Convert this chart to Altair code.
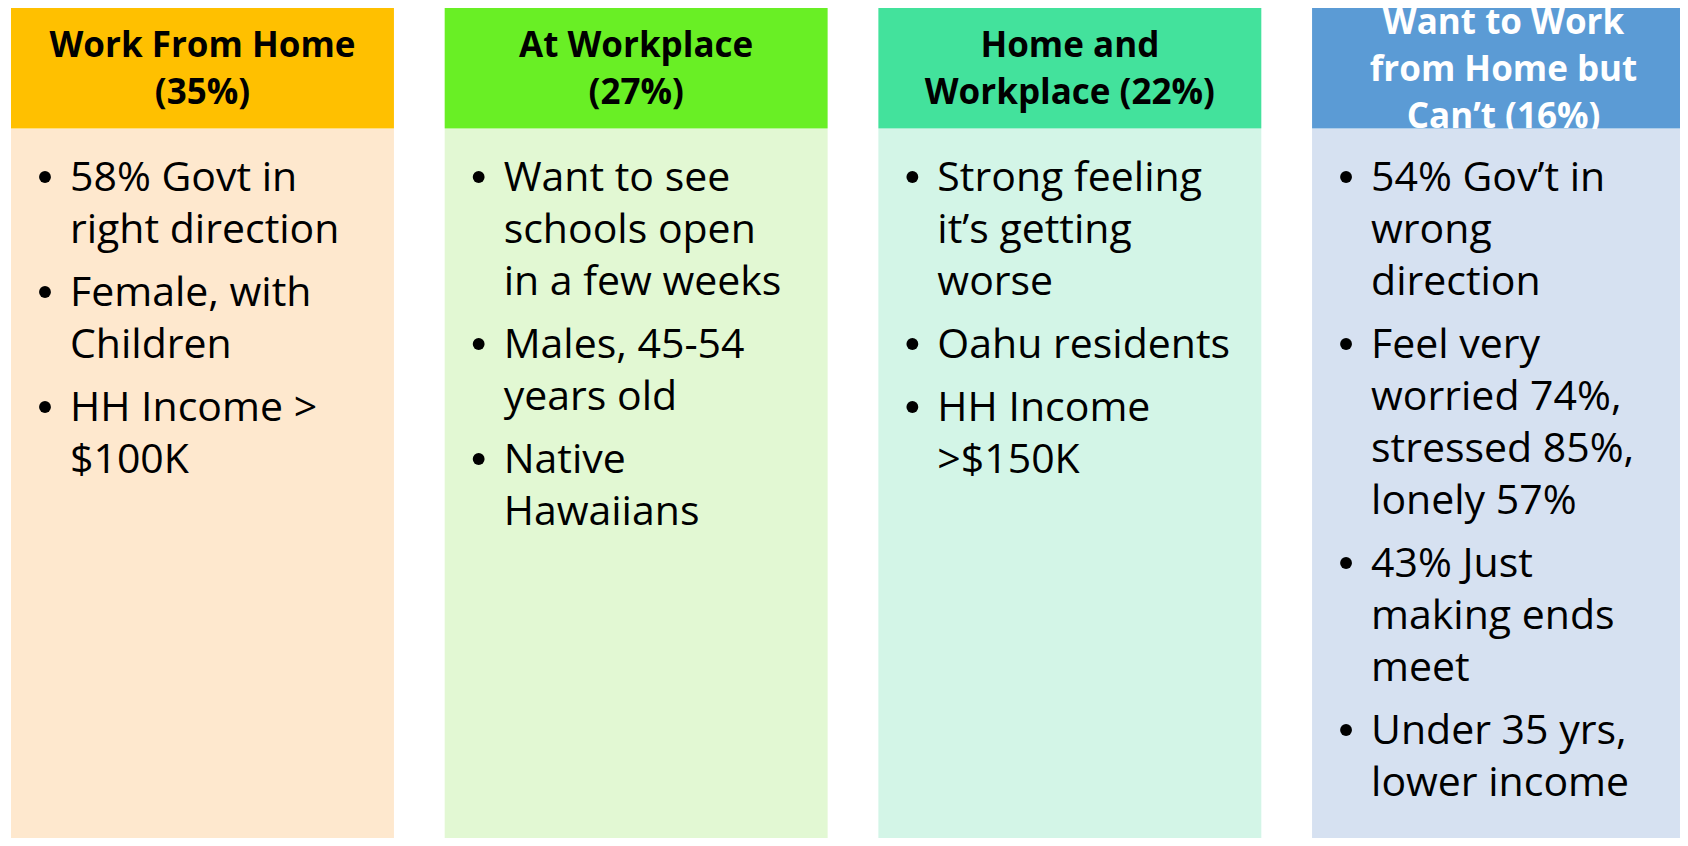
import altair as alt
import pandas as pd

# ---- content -------------------------------------------------------------
CATEGORIES = ["Work From Home", "At Workplace", "Home and Workplace",
              "Want to Work from Home but Can’t"]
SHARES = [35, 27, 22, 16]

HEADER_LINES = [
    ["Work From Home", "(35%)"],
    ["At Workplace", "(27%)"],
    ["Home and", "Workplace (22%)"],
    ["Want to Work", "from Home but", "Can’t (16%)"],
]

BULLETS_HOME = [["58% Govt in", "right direction"],
                ["Female, with", "Children"],
                ["HH Income >", "$100K"]]
BULLETS_WORK = [["Want to see", "schools open", "in a few weeks"],
                ["Males, 45-54", "years old"],
                ["Native", "Hawaiians"]]
BULLETS_BOTH = [["Strong feeling", "it’s getting", "worse"],
                ["Oahu residents"],
                ["HH Income", ">$150K"]]
BULLETS_CANT = [["54% Gov’t in", "wrong", "direction"],
                ["Feel very", "worried 74%,", "stressed 85%,", "lonely 57%"],
                ["43% Just", "making ends", "meet"],
                ["Under 35 yrs,", "lower income"]]
BULLETS = [BULLETS_HOME, BULLETS_WORK, BULLETS_BOTH, BULLETS_CANT]

HEADER_COLORS = ["#FFC000", "#69EF25", "#43E29C", "#5B9BD5"]
BODY_COLORS = ["#FEE8CE", "#E2F8D3", "#D3F5E7", "#D6E1F1"]
HEADER_TEXT_COLORS = ["#000000", "#000000", "#000000", "#FFFFFF"]

# ---- layout constants (page pixels) --------------------------------------
W, H = 1672, 830
HEADER_TOP, HEADER_BOTTOM, BODY_BOTTOM = 7, 128.5, 846
HEAD_CENTER, HEAD_STEP = 80.5, 47
BODY_FIRST, LINE_STEP, BULLET_GAP = 191, 52, 11

# ---- tables --------------------------------------------------------------
panels = pd.DataFrame({"category": CATEGORIES, "share": SHARES})

head_rows = []
for cat, lines in zip(CATEGORIES, HEADER_LINES):
    n = len(lines)
    for i, t in enumerate(lines):
        head_rows.append({"category": cat, "text": t,
                          "y": HEAD_CENTER - (n - 1) * HEAD_STEP / 2 + i * HEAD_STEP})
head_df = pd.DataFrame(head_rows)

body_rows, bullet_rows = [], []
for cat, bullets in zip(CATEGORIES, BULLETS):
    li = 0
    for bi, lines in enumerate(bullets):
        for k, t in enumerate(lines):
            y = BODY_FIRST + li * LINE_STEP + bi * BULLET_GAP
            body_rows.append({"category": cat, "text": t, "y": y})
            if k == 0:
                bullet_rows.append({"category": cat, "y": y})
            li += 1
body_df = pd.DataFrame(body_rows)
bullet_df = pd.DataFrame(bullet_rows)

# ---- scales --------------------------------------------------------------
xscale = alt.Scale(domain=CATEGORIES, range=[3, 1687], paddingInner=0.117, paddingOuter=0)
yscale = alt.Scale(domain=[8, 8 + H], range=[0, H], zero=False, nice=False)

x_band = alt.X("category:N", scale=xscale, axis=None, title=None)
x_start = alt.X("category:N", scale=xscale, axis=None, title=None, bandPosition=0)
x_mid = alt.X("category:N", scale=xscale, axis=None, title=None, bandPosition=0.5)

header_rect = alt.Chart(panels).mark_rect().encode(
    x=x_band,
    y=alt.Y("top:Q", scale=yscale, axis=None),
    y2="bottom:Q",
    color=alt.Color("category:N", scale=alt.Scale(domain=CATEGORIES, range=HEADER_COLORS), legend=None),
).transform_calculate(top=str(HEADER_TOP), bottom=str(HEADER_BOTTOM))

header_text = alt.Chart(head_df).mark_text(
    font="Open Sans", fontWeight="bold", fontSize=35, align="center", baseline="alphabetic"
).encode(
    x=x_mid,
    y=alt.Y("y:Q", scale=yscale, axis=None),
    text="text:N",
    color=alt.Color("category:N", scale=alt.Scale(domain=CATEGORIES, range=HEADER_TEXT_COLORS), legend=None),
)

body_rect = alt.Chart(panels).mark_rect().encode(
    x=x_band,
    y=alt.Y("top:Q", scale=yscale, axis=None),
    y2="bottom:Q",
    color=alt.Color("category:N", scale=alt.Scale(domain=CATEGORIES, range=BODY_COLORS), legend=None),
).transform_calculate(top=str(HEADER_BOTTOM + 0.5), bottom=str(BODY_BOTTOM))

body_text = alt.Chart(body_df).mark_text(
    font="Open Sans", fontSize=41, align="left", baseline="alphabetic", dx=59, color="#000000"
).encode(
    x=x_start,
    y=alt.Y("y:Q", scale=yscale, axis=None),
    text="text:N",
)

bullet_dots = alt.Chart(bullet_df).mark_circle(
    size=140, opacity=1, color="#000000", xOffset=34, yOffset=-14
).encode(
    x=x_start,
    y=alt.Y("y:Q", scale=yscale, axis=None),
)

chart = alt.layer(
    header_rect, header_text, body_rect, body_text, bullet_dots
).resolve_scale(color="independent").properties(
    width=W, height=H, padding=0, autosize=alt.AutoSizeParams(type="none")
).configure_view(stroke=None)

chart.save("out.html", embed_options={"renderer": "svg", "actions": False})
